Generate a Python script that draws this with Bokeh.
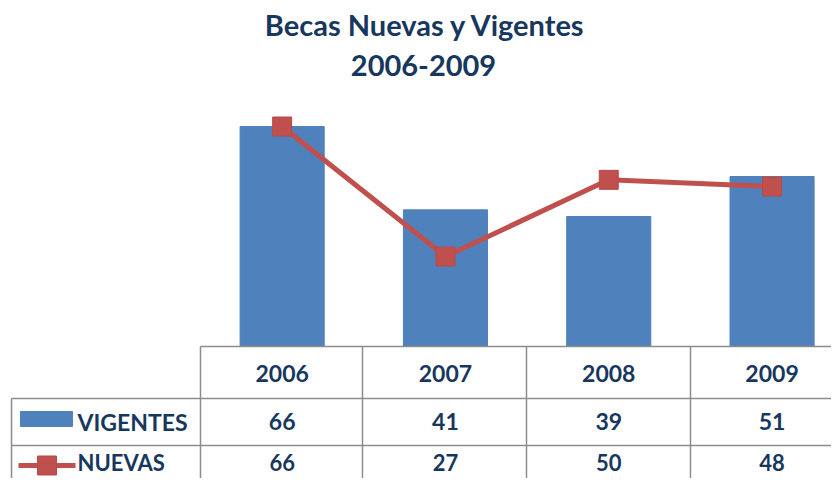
from bokeh.plotting import figure
from bokeh.models import Range1d
from bokeh.core.properties import value
from bokeh.embed import file_html
from bokeh.resources import INLINE

years = ["2006", "2007", "2008", "2009"]
vigentes = [66, 41, 39, 51]
nuevas = [66, 27, 50, 48]
series_names = ["VIGENTES", "NUEVAS"]
title_lines = ["Becas Nuevas y Vigentes", "2006-2009"]

BLUE = "#4F81BD"
RED = "#C0504D"
NAVY = "#17375E"
GRID = "#8C8C8C"
FONT = value("Lato")

W, H = 831, 478
X0_PX, CELL_PX = 200.0, 163.3
Y0_PX, UNIT_PX = 346.0, 220.0 / 66.0
TXT_OFF = 9  # text baseline correction


def ux(px):
    return (px - X0_PX) / CELL_PX


def uy(py):
    return (Y0_PX - py) / UNIT_PX


def ut(py):
    return uy(py - TXT_OFF)


p = figure(width=W, height=H, x_range=Range1d(ux(0), ux(W)),
           y_range=Range1d(uy(H), uy(0)), output_backend="svg",
           toolbar_location=None, min_border=0)
p.axis.visible = False
p.grid.visible = False
p.outline_line_color = None
p.background_fill_color = "white"
p.border_fill_color = "white"

xs = [i + 0.5 for i in range(len(years))]

# bars and line
p.vbar(x=xs, top=vigentes, bottom=0, width=0.515, fill_color=BLUE, line_color=BLUE)
p.line(xs, nuevas, line_color=RED, line_width=5)
p.scatter(xs, nuevas, marker="square", size=19, fill_color=RED, line_color="#B84A47")

# data table grid
right = 900
segs = [
    (200, 346, right, 346),
    (11, 398, right, 398),
    (11, 445, right, 445),
    (200, 346, 200, 500),
    (362, 346, 362, 500),
    (526, 346, 526, 500),
    (690, 346, 690, 500),
    (11, 398, 11, 500),
]
p.segment(x0=[ux(s[0]) for s in segs], y0=[uy(s[1]) for s in segs],
          x1=[ux(s[2]) for s in segs], y1=[uy(s[3]) for s in segs],
          line_color=GRID, line_width=1.5)

# title
p.text(x=[ux(425), ux(423)], y=[ut(33), ut(74)], text=title_lines,
       text_font=FONT, text_font_style="bold", text_font_size="29px",
       text_color=NAVY, text_align="center", text_baseline="alphabetic")

# header years
p.text(x=xs, y=[ut(382)] * 4, text=years, text_font=FONT, text_font_style="bold",
       text_font_size="23px", text_color=NAVY, text_align="center",
       text_baseline="alphabetic")
# values
p.text(x=xs, y=[ut(430)] * 4, text=[str(v) for v in vigentes], text_font=FONT,
       text_font_style="bold", text_font_size="23px", text_color=NAVY,
       text_align="center", text_baseline="alphabetic")
p.text(x=xs, y=[ut(471)] * 4, text=[str(v) for v in nuevas], text_font=FONT,
       text_font_style="bold", text_font_size="22px", text_color=NAVY,
       text_align="center", text_baseline="alphabetic")

# row labels with legend keys
p.text(x=[ux(77)], y=[ut(430)], text=series_names[:1], text_font=FONT,
       text_font_style="bold", text_font_size="23px", text_color=NAVY,
       text_align="left", text_baseline="alphabetic")
p.text(x=[ux(77)], y=[ut(471)], text=series_names[1:], text_font=FONT,
       text_font_style="bold", text_font_size="22px", text_color=NAVY,
       text_align="left", text_baseline="alphabetic")
p.quad(left=[ux(20)], right=[ux(72)], top=[uy(411)], bottom=[uy(426)],
       fill_color=BLUE, line_color=BLUE)
p.line([ux(18), ux(75)], [uy(465), uy(465)], line_color=RED, line_width=5)
p.scatter([ux(46.5)], [uy(465)], marker="square", size=19, fill_color=RED,
          line_color="#B84A47")

open("out.html", "w").write(file_html(p, INLINE))
